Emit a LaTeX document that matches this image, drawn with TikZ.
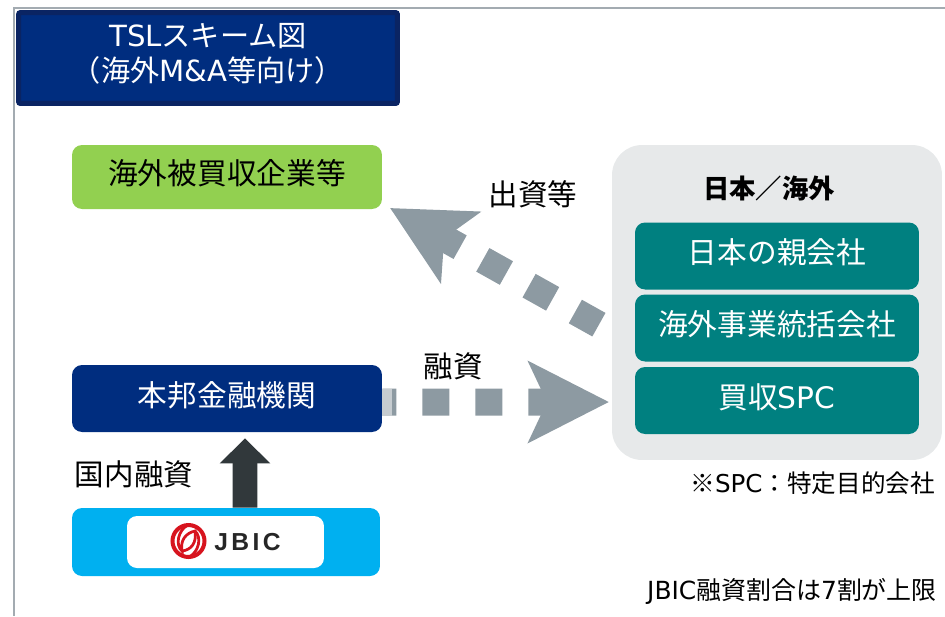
\documentclass[tikz,border=0pt]{standalone}
\usepackage{fontspec}
\usepackage{xcolor}
\usepackage{tikz}
\usetikzlibrary{arrows.meta}
\setmainfont{Noto Sans CJK JP}
\newfontfamily\latinfont{DejaVu Sans}
\newfontfamily\logofont[LetterSpace=14]{Liberation Sans}
\newcommand{\lat}[1]{{\latinfont #1}}
\definecolor{navy}{HTML}{002D7F}
\definecolor{navyedge}{HTML}{0A2463}
\definecolor{leaf}{HTML}{92D050}
\definecolor{sky}{HTML}{00B0F0}
\definecolor{teal}{HTML}{008080}
\definecolor{panel}{HTML}{E7E9EA}
\definecolor{flow}{HTML}{8D9AA2}
\definecolor{frame}{HTML}{A3ABB1}
\definecolor{ink}{HTML}{31383B}
\definecolor{logored}{HTML}{D7141E}

\begin{document}
\begin{tikzpicture}[
    x=0.02cm, y=-0.02cm,
    box/.style={rectangle, rounded corners=0.2cm, minimum height=1.34cm, text height=0.5cm, text depth=0.19cm,
        font=\fontsize{16.9}{20}\selectfont},
    party/.style={box, fill=teal, text=white, minimum width=5.68cm},
    label/.style={font=\fontsize{16.8}{20}\selectfont},
    note/.style={font=\fontsize{14}{16}\selectfont},
    dashflow/.style={draw=flow, line width=0.54cm, dash pattern=on 0.54cm off 0.52cm,
        -{Stealth[length=1.6cm, width=1.6cm, inset=0.36cm]}}
]
\useasboundingbox (0,0) rectangle (945,616);

% Frame
\draw[frame, line width=0.05cm] (14,616) -- (14,8) -- (945,8);

% Title
\node[rectangle, rounded corners=0.04cm, draw=navyedge, line width=0.1cm, fill=navy, text=white,
    minimum width=7.58cm, minimum height=1.82cm, align=center, text depth=0.22cm,
    font=\fontsize{16.6}{20.2}\selectfont] (title) at (208,58)
    {\lat{TSL}スキーム図\\（海外\lat{M\&A}等向け）};

% Left side
\node[box, fill=leaf, minimum width=6.2cm, minimum height=1.28cm] (target) at (227,177) {海外被買収企業等};
\node[box, fill=navy, text=white, minimum width=6.2cm] (bank) at (227,398.5) {本邦金融機関};
\node[box, fill=sky, minimum width=6.16cm, minimum height=1.36cm] (jbic) at (226,542) {};
\node[rectangle, rounded corners=0.2cm, fill=white, minimum width=3.94cm, minimum height=1.04cm] (logo) at (225.5,542) {};

% JBIC logo
\draw[logored, line width=0.08cm] (188.5,541) circle (16);
\draw[logored, line width=0.055cm] (188,525) .. controls (178,530) and (175,545) .. (182,551)
    .. controls (180,540) and (186,533) .. (195,531) .. controls (197,543) and (191,550) .. (182,551);
\draw[logored, line width=0.055cm] (189,557) .. controls (199,552) and (202,537) .. (195,531);
\node[font=\logofont\bfseries\fontsize{14}{16}\selectfont, text=black!85, anchor=west, inner sep=0pt] (logotext) at (214,542) {JBIC};

% Right side
\node[rectangle, rounded corners=0.6cm, fill=panel, minimum width=6.6cm, minimum height=6.3cm] (group) at (777,302.5) {};
\node[font=\fontsize{15}{18}\bfseries\selectfont] (grouplabel) at (769,188) {日本／海外};
\node[party] (parent) at (777,256) {日本の親会社};
\node[party] (holding) at (777,328) {海外事業統括会社};
\node[party] (spc) at (777,400.5) {買収\lat{SPC}};

% Flows
\coordinate (investstart) at (612,332);
\coordinate (investend) at (390,208);
\coordinate (loanend) at (612,402);
\draw[dashflow, dash phase=0.76cm] (investstart) -- (investend);
\draw[dashflow, dash phase=0.26cm, shorten >=0.06cm] ([yshift=-0.07cm]bank.east) -- (loanend);
\node[rectangle, fill=flow!50!white, minimum width=0.2cm, minimum height=0.54cm, inner sep=0pt] (loanstub) at (387,402) {};
\draw[ink, line width=0.5cm, -{Triangle[length=0.5cm, width=0.98cm]}, shorten >=0.12cm]
    ([xshift=0.38cm]jbic.north) -- ([xshift=0.36cm]bank.south);

% Labels
\node[label] (investlabel) at (533,194) {出資等};
\node[label] (loanlabel) at (453,366) {融資};
\node[label] (domestic) at (134,474) {国内融資};
\node[note, anchor=east] (spcnote) at (941,483) {※\lat{SPC}：特定目的会社};
\node[note, anchor=east, font=\fontsize{14.2}{16}\selectfont] (limit) at (943,591) {\lat{JBIC}融資割合は\lat{7}割が上限};
\end{tikzpicture}
\end{document}
